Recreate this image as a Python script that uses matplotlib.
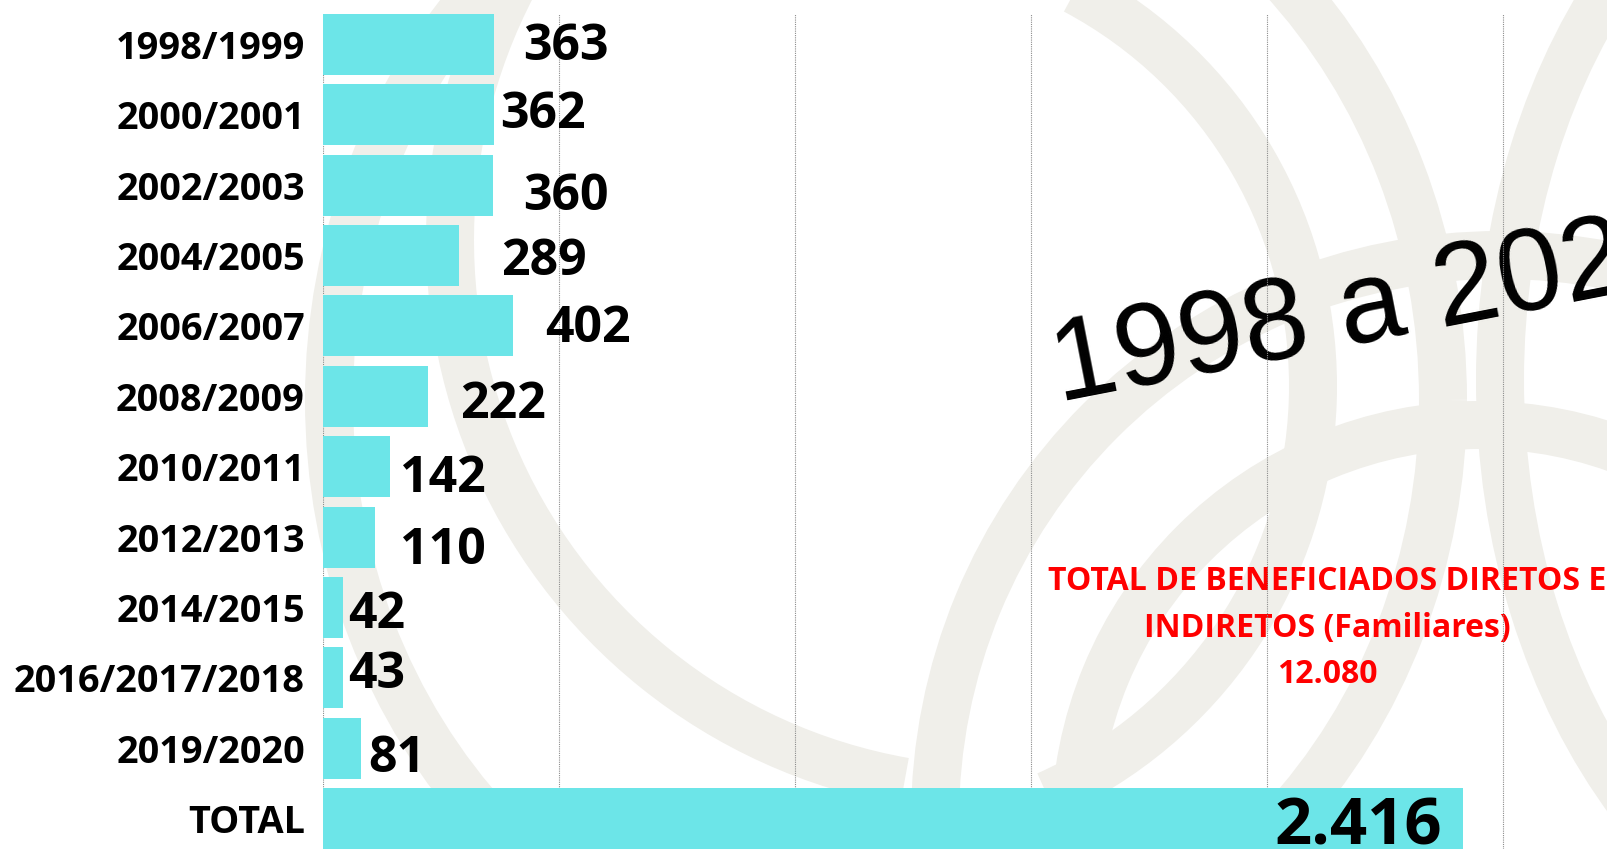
import matplotlib

matplotlib.use("Agg")
import matplotlib.pyplot as plt
import numpy as np
from matplotlib.patches import Arc

periods = ["1998/1999", "2000/2001", "2002/2003", "2004/2005", "2006/2007", "2008/2009",
           "2010/2011", "2012/2013", "2014/2015", "2016/2017/2018", "2019/2020", "TOTAL"]
beneficiados = [363, 362, 360, 289, 402, 222, 142, 110, 42, 43, 81, 2416]
value_labels = ["363", "362", "360", "289", "402", "222", "142", "110", "42", "43", "81", "2.416"]
x_ticks = [0, 500, 1000, 1500, 2000, 2500]

title_text = "1998 a 2020"
note_text = "TOTAL DE BENEFICIADOS DIRETOS E\nINDIRETOS (Familiares)\n12.080"

# hand nudges of the value labels, pixels (dx from bar end, dy downward)
label_dx = [29, 6, 30, 42, 32, 32, 10, 25, 5, 5, 7, -21]
label_dy = [-2.5, -5, 6.5, 1.5, -2, 3.5, 7, 9, 3, -8, 6, 2.5]

# watermark arcs (centre x, centre y, width, height, theta1, theta2), pixels, y downward
rings = [(886, 400, 1114, 1200, 0, 360),
         (865, 386, 896, 896, -62, 66),
         (1000, 240, 1100, 1100, 100, 215),
         (1500, 820, 1130, 1130, 0, 360),
         (1480, 830, 810, 810, 0, 360),
         (1950, 380, 900, 1200, 0, 360)]

W, H = 1608, 849
PX = 0.72  # points per pixel at dpi 100
BAR = "#6ce5e8"
FONT = "Open Sans"

fig = plt.figure(figsize=(W / 100, H / 100), dpi=100)

bg = fig.add_axes([0, 0, 1, 1], zorder=0)
bg.set_xlim(0, W)
bg.set_ylim(H, 0)
bg.axis("off")
for cx, cy, w, h, t1, t2 in rings:
    bg.add_patch(Arc((cx, cy), w, h, theta1=t1, theta2=t2, lw=48 * PX, color="#f0efea"))

bg.text(1059, 402, title_text, family="Liberation Sans", fontsize=84, rotation=11,
        rotation_mode="anchor", ha="left", va="baseline", color="black")
bg.text(1327, 628, note_text, family=FONT, fontweight="bold", fontsize=23, color="#ff0000",
        ha="center", va="center", linespacing=1.55)

ax = fig.add_axes([323 / W, 0, 1 - 323 / W, 835 / H], zorder=1)
ax.patch.set_alpha(0)
y = np.arange(len(periods))
ax.barh(y, beneficiados, height=0.866, color=BAR, zorder=2)
ax.set_ylim(len(periods) - 1 + 0.433, -0.433)
ax.set_xlim(0, 2723)
ax.set_xticks(x_ticks)
ax.grid(axis="x", linestyle=(0, (1, 1)), color="#8c8c8c", lw=0.8)
ax.grid(axis="y", visible=False)
ax.set_axisbelow(True)
ax.tick_params(length=0, labelbottom=False, pad=13)
ax.set_yticks(y, periods, fontsize=27.3, fontweight="bold", family=FONT)
for s in ax.spines.values():
    s.set_visible(False)

for i, (v, lab) in enumerate(zip(beneficiados, value_labels)):
    last = i == len(periods) - 1
    size = 47 if last else 36
    cap = 0.714 * size / PX
    ax.annotate(lab, (v, i), xytext=(label_dx[i] * PX, -(label_dy[i] + cap / 2) * PX),
                textcoords="offset points", ha="right" if last else "left", va="baseline",
                fontsize=size, fontweight="bold", family=FONT, color="black", zorder=3)

fig.savefig("out.png", dpi=100)
